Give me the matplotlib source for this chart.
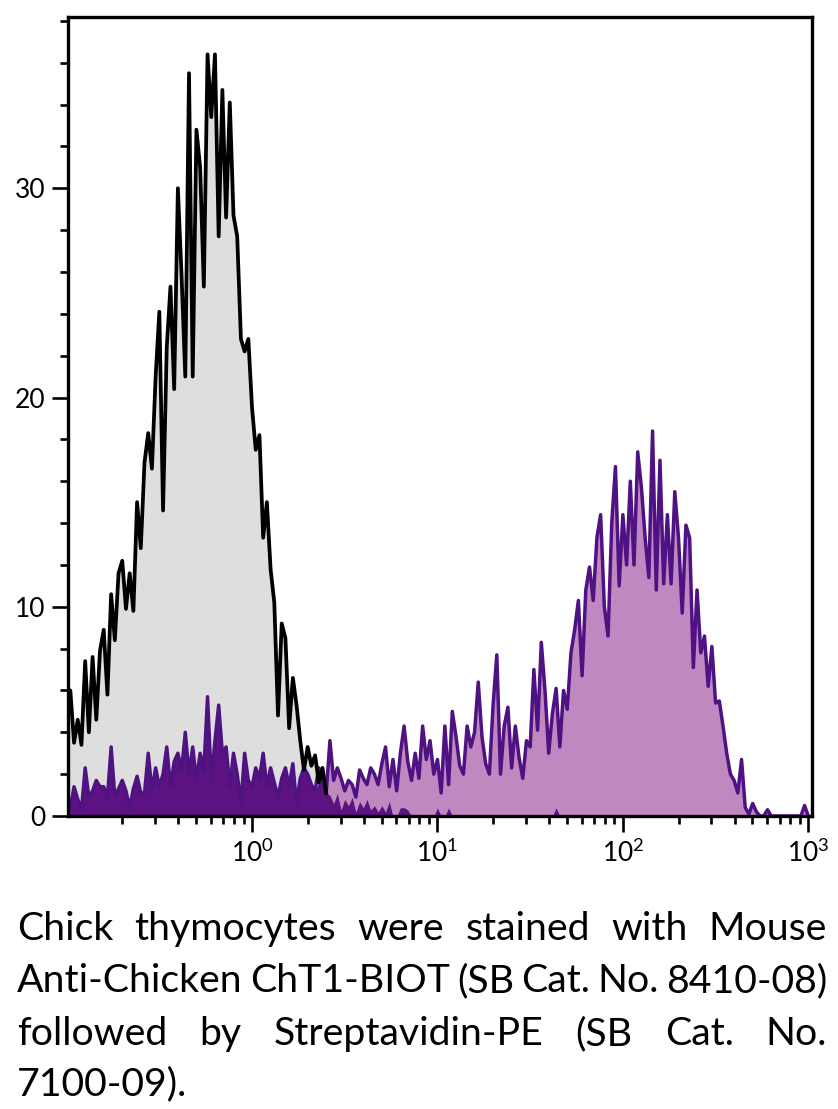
import numpy as np
import matplotlib
matplotlib.use("Agg")
import matplotlib.pyplot as plt
from matplotlib.ticker import FixedLocator, NullFormatter

plt.rcParams['font.family'] = ['Lato', 'DejaVu Sans']
plt.rcParams['mathtext.fontset'] = 'custom'
plt.rcParams['mathtext.rm'] = 'Lato'
plt.rcParams['mathtext.it'] = 'Lato:italic'
plt.rcParams['mathtext.bf'] = 'Lato:bold'

# ---------------- data (channels: log10 intensity from -1 to 3, step 0.02) ----------------
log_start, log_end, n_channels = -1.0, 3.0, 201

# stained sample (purple)
stained_counts = [
    0.4, 0.4, 1.4, 0.8, 0.3, 2.3, 0.9, 1.2, 1.7, 1.4,
    1.4, 0.9, 3.3, 0.9, 1.3, 1.7, 1.2, 0.4, 1.3, 1.9,
    1.1, 1.1, 3.0, 1.2, 2.3, 1.4, 2.0, 3.3, 1.4, 2.6,
    3.0, 2.2, 4.0, 2.0, 3.3, 1.7, 3.0, 2.2, 5.7, 1.7,
    3.6, 5.3, 3.0, 3.3, 1.4, 3.0, 2.0, 0.6, 3.0, 1.7,
    1.4, 2.3, 1.8, 3.0, 1.4, 2.3, 1.6, 0.9, 1.8, 2.3,
    1.4, 2.5, 0.6, 1.8, 2.3, 2.0, 1.5, 1.2, 2.3, 1.6,
    1.1, 3.6, 1.7, 2.3, 1.8, 1.2, 1.7, 1.5, 0.9, 2.2,
    1.8, 1.5, 2.3, 2.0, 1.5, 2.5, 3.3, 1.4, 2.7, 1.2,
    3.0, 4.3, 2.6, 1.7, 3.0, 1.8, 4.3, 2.7, 3.6, 2.0,
    2.7, 1.1, 4.3, 1.5, 5.0, 3.8, 2.4, 2.0, 4.3, 3.3,
    4.0, 6.4, 3.8, 2.5, 2.0, 5.3, 7.7, 2.0, 4.3, 5.2,
    2.3, 4.3, 2.8, 1.8, 3.6, 3.3, 7.0, 4.1, 8.3, 6.0,
    3.0, 4.9, 6.1, 3.3, 6.0, 5.1, 7.8, 8.9, 10.3, 6.7,
    10.8, 11.9, 10.3, 13.3, 14.4, 10.0, 8.6, 14.0, 16.7, 11.0,
    14.4, 12.0, 16.0, 12.0, 17.4, 15.7, 13.3, 11.4, 18.4, 10.8,
    17.0, 11.1, 14.4, 11.1, 15.5, 13.3, 9.7, 13.9, 13.3, 7.1,
    10.8, 7.8, 8.6, 6.2, 8.1, 5.4, 5.5, 4.3, 3.0, 2.0,
    1.7, 1.1, 2.7, 0.4, 0.1, 0.6, 0.2, 0.0, 0.0, 0.3,
    0.0, 0.0, 0.0, 0.0, 0.0, 0.0, 0.0, 0.0, 0.0, 0.5,
    0.0,
]

# control (grey) main peak, channels -1.00 .. 0.40
control_counts = [
    5.5, 6.0, 3.5, 4.6, 3.4, 7.4, 4.0, 7.6, 4.6, 7.9,
    8.9, 5.8, 10.6, 8.4, 11.6, 12.2, 9.9, 11.6, 9.8, 15.0,
    12.8, 16.9, 18.3, 16.6, 21.0, 24.1, 14.6, 22.4, 25.3, 20.4,
    30.0, 25.8, 21.0, 35.5, 21.0, 32.8, 31.0, 25.3, 36.4, 33.4,
    36.4, 27.7, 34.7, 28.6, 34.1, 28.7, 27.7, 22.8, 22.2, 22.8,
    19.5, 17.5, 18.2, 13.3, 15.0, 11.8, 10.2, 4.8, 9.2, 8.5,
    4.2, 6.6, 5.3, 3.6, 2.2, 3.3, 2.4, 2.9, 1.6, 2.3,
    1.1,
]
# control (grey) sparse tail, channels 0.42 .. 3.00
control_tail = [
    1.0, 0.6, 1.1, 0.3, 0.8, 0.5, 0.9, 0.2, 0.7, 0.4,
    0.8, 0.3, 0.5, 0.2, 0.5, 0.2, 0.7, 0.0, 0.0, 0.4,
    0.4, 0.3, 0.0, 0.0, 0.0, 0.0, 0.0, 0.0, 0.0, 0.4,
    0.0, 0.0, 0.4, 0.0, 0.0, 0.0, 0.0, 0.0, 0.0, 0.0,
    0.0, 0.0, 0.0, 0.0, 0.0, 0.0, 0.0, 0.0, 0.0, 0.0,
    0.0, 0.0, 0.0, 0.0, 0.0, 0.0, 0.0, 0.0, 0.0, 0.0,
    0.0, 0.4, 0.0, 0.0, 0.0, 0.0, 0.0, 0.0, 0.0, 0.0,
] + [0.0] * 60

y_ticks = [0, 10, 20, 30]
x_ticks = [1, 10, 100, 1000]
x_ticklabels = [r'$\mathregular{10^{0}}$', r'$\mathregular{10^{1}}$',
                r'$\mathregular{10^{2}}$', r'$\mathregular{10^{3}}$']

caption_lines = [
    "Chick thymocytes were stained with Mouse",
    "Anti-Chicken ChT1-BIOT (SB Cat. No. 8410-08)",
    "followed by Streptavidin-PE (SB Cat. No.",
    "7100-09).",
]

# ---------------- figure ----------------
W, H = 838, 1109
fig = plt.figure(figsize=(W / 100, H / 100), dpi=100)
ax_l, ax_r, ax_t, ax_b = 68.3, 812.0, 16.7, 816.0
ax = fig.add_axes([ax_l / W, 1 - ax_b / H, (ax_r - ax_l) / W, (ax_b - ax_t) / H])

logx = np.linspace(log_start, log_end, n_channels)
x = 10 ** logx
S = np.array(stained_counts)
G = np.array(control_counts + control_tail)
n_main = len(control_counts)

light_purple = '#c088c0'
dark_fill = '#5c1280'
purple_line = '#4f1283'
grey_fill = '#dedede'

ax.fill_between(x, 0, S, color=light_purple, lw=0, zorder=1)
ax.fill_between(x, 0, G, color=grey_fill, lw=0, zorder=2)
ax.fill_between(x, 0, np.minimum(S, G), color=dark_fill, lw=0, zorder=3)
ax.plot(x, S, color=purple_line, lw=2.5, zorder=4)
ax.plot(x[:n_main], G[:n_main], color='black', lw=2.7, zorder=5)

ax.set_xscale('log')
ax.set_xlim(10 ** -0.991, 10 ** 3.02)
ax.set_ylim(0, 38.2)

ax.set_xticks(x_ticks)
ax.set_xticklabels(x_ticklabels)
minor_x = [m * 10.0 ** e for e in range(-1, 3) for m in range(2, 10)]
ax.xaxis.set_minor_locator(FixedLocator(minor_x))
ax.xaxis.set_minor_formatter(NullFormatter())

ax.set_yticks(y_ticks)
ax.set_yticklabels([str(v) for v in y_ticks])
ax.yaxis.set_minor_locator(FixedLocator(list(range(0, 39, 2))))

for s in ax.spines.values():
    s.set_linewidth(2.4)
    s.set_zorder(6)

ax.tick_params(axis='both', which='major', direction='out', length=11.5, width=1.9,
               labelsize=19, colors='black')
ax.tick_params(axis='both', which='minor', direction='out', length=5.5, width=1.9)
ax.tick_params(axis='y', which='major', pad=5)
ax.tick_params(axis='x', which='major', pad=5)
ax.tick_params(top=False, right=False, which='both')

# ---------------- justified caption ----------------
fig.canvas.draw()
renderer = fig.canvas.get_renderer()
cap_left, cap_right = 17.0, 827.0
baselines = [940, 992, 1045, 1095]


def text_width(s, fs):
    t = fig.text(0, 0, s, fontsize=fs, family=['Lato', 'DejaVu Sans'])
    w = t.get_window_extent(renderer).width
    t.remove()
    return w


ref_w = text_width(caption_lines[1], 20)
fs_cap = 1.02 * 20 * (cap_right - cap_left) / ref_w

for i, line in enumerate(caption_lines):
    words = line.split(' ')
    yfig = 1 - baselines[i] / H
    if i < len(caption_lines) - 1:
        widths = [text_width(w, fs_cap) for w in words]
        gap = (cap_right - cap_left - sum(widths)) / (len(words) - 1)
        xpos = cap_left
        for w, wd in zip(words, widths):
            fig.text(xpos / W, yfig, w, fontsize=fs_cap, va='baseline', ha='left',
                     family=['Lato', 'DejaVu Sans'])
            xpos += wd + gap
    else:
        fig.text(cap_left / W, yfig, line, fontsize=fs_cap, va='baseline', ha='left',
                 family=['Lato', 'DejaVu Sans'])

fig.savefig('out.png', dpi=100)
